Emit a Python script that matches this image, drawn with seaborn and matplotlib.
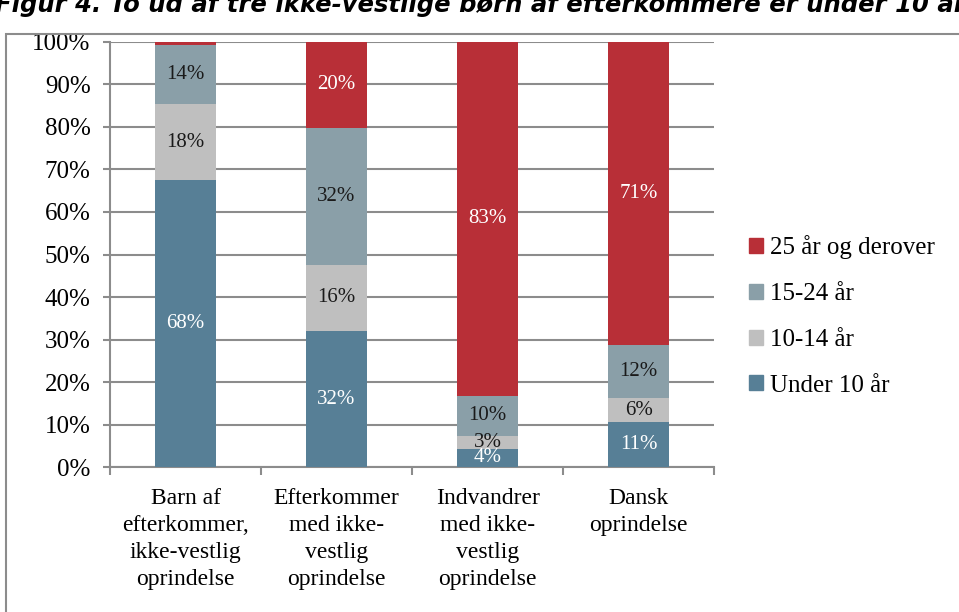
import matplotlib
matplotlib.use("Agg")
import matplotlib.pyplot as plt
import matplotlib.patches as mpatches
from matplotlib.ticker import PercentFormatter, FixedLocator
import numpy as np
import pandas as pd
import seaborn as sns

# Data (shares in %)
categories = ["Barn af\nefterkommer,\nikke-vestlig\noprindelse",
              "Efterkommer\nmed ikke-\nvestlig\noprindelse",
              "Indvandrer\nmed ikke-\nvestlig\noprindelse",
              "Dansk\noprindelse"]
groups = ["Under 10 år", "10-14 år", "15-24 år", "25 år og derover"]
under10 = [67.5, 32.0, 4.3, 10.5]
age10_14 = [17.8, 15.6, 3.0, 5.8]
age15_24 = [13.9, 32.2, 9.5, 12.3]
age25plus = [0.8, 20.2, 83.2, 71.4]
labels = {
    "Under 10 år": ["68%", "32%", "4%", "11%"],
    "10-14 år": ["18%", "16%", "3%", "6%"],
    "15-24 år": ["14%", "32%", "10%", "12%"],
    "25 år og derover": ["", "20%", "83%", "71%"],
}
colors = {"Under 10 år": "#577f96", "10-14 år": "#bfbfbf",
          "15-24 år": "#8a9fa8", "25 år og derover": "#b82f37"}
text_colors = {"Under 10 år": "white", "10-14 år": "#1a1a1a",
               "15-24 år": "#1a1a1a", "25 år og derover": "white"}

values = {"Under 10 år": under10, "10-14 år": age10_14,
          "15-24 år": age15_24, "25 år og derover": age25plus}

# cumulative tops for stacking
rows = []
base = np.zeros(len(categories))
for g in groups:
    v = np.array(values[g])
    for i, c in enumerate(categories):
        rows.append({"cat": c, "group": g, "val": v[i], "bottom": base[i], "top": base[i] + v[i]})
    base = base + v
df = pd.DataFrame(rows)

plt.rcParams["font.family"] = ["Liberation Serif", "DejaVu Serif"]

fig = plt.figure(figsize=(9.59, 6.12), dpi=100)
ax = fig.add_axes([0.1147, 0.2369, 0.63, 0.6945])

# draw from the top layer down so lower layers sit on top
for g in reversed(groups):
    sub = df[df["group"] == g]
    sns.barplot(data=sub, x="cat", y="top", order=categories, color=colors[g],
                width=0.4, saturation=1, ax=ax, zorder=3)

for g in groups:
    sub = df[df["group"] == g].reset_index(drop=True)
    for i, r in sub.iterrows():
        lab = labels[g][i]
        if lab:
            ax.text(i, (r["bottom"] + r["top"]) / 2, lab, ha="center", va="center",
                    fontsize=15, color=text_colors[g], zorder=4)

ax.set_ylim(0, 100)
ax.set_xlim(-0.5, 3.5)
ax.yaxis.set_major_locator(FixedLocator(np.arange(0, 101, 10)))
ax.yaxis.set_major_formatter(PercentFormatter(decimals=0))
ax.grid(axis="y", color="#8c8c8c", linewidth=1.5, zorder=0)
ax.set_axisbelow(True)
ax.set_xlabel("")
ax.set_ylabel("")
for s in ["top", "right"]:
    ax.spines[s].set_visible(False)
for s in ["left", "bottom"]:
    ax.spines[s].set_color("#8c8c8c")
    ax.spines[s].set_linewidth(1.5)
ax.tick_params(axis="y", labelsize=18, length=5, color="#8c8c8c", width=1.5, pad=9)
ax.tick_params(axis="x", which="major", length=0, labelsize=17, pad=15)
ax.set_xticks(np.arange(-0.5, 3.6, 1), minor=True)
ax.tick_params(axis="x", which="minor", length=6, color="#8c8c8c", width=1.5)
for t in ax.get_xticklabels():
    t.set_linespacing(1.38)

handles = [mpatches.Patch(color=colors[g], label=g) for g in reversed(groups)]
leg = ax.legend(handles=handles, loc="center left", bbox_to_anchor=(1.02, 0.355),
                frameon=False, fontsize=18, handlelength=0.55, handleheight=0.55,
                handletextpad=0.3, labelspacing=0.95)

# chart border
fig.patches.append(mpatches.Rectangle((0.006, -0.02), 1.1, 0.965, transform=fig.transFigure,
                                      fill=False, edgecolor="#8c8c8c", linewidth=1.5))
# cut-off caption at the top
fig.text(-0.005, 1 - 12 / 612, "Figur 4. To ud af tre ikke-vestlige børn af efterkommere er under 10 år.",
         fontsize=17.5, fontweight="bold", fontstyle="italic", family="DejaVu Sans",
         va="baseline", ha="left")

fig.savefig("out.png", dpi=100)
